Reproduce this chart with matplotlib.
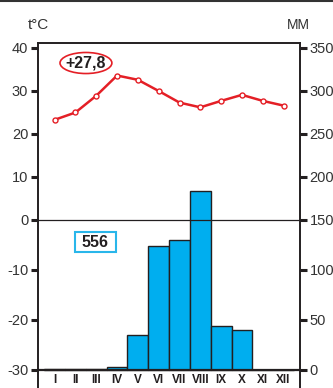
import matplotlib
matplotlib.use("Agg")
import matplotlib.pyplot as plt
import numpy as np
from matplotlib.lines import Line2D
from matplotlib.patches import Ellipse, Rectangle

# Monthly climate values
months = ["I", "II", "III", "IV", "V", "VI", "VII", "VIII", "IX", "X", "XI", "XII"]
temperature = [23.3, 25.0, 28.9, 33.6, 32.6, 30.0, 27.3, 26.2, 27.7, 29.1, 27.7, 26.6]
precipitation = [1, 1, 1, 3, 35, 124, 130, 184, 44, 40, 0, 0]

mean_temp_label = "+27,8"
annual_precip_label = "556"

temp_ticks = [-30, -20, -10, 0, 10, 20, 30, 40]
precip_ticks = [0, 50, 100, 150, 200, 250, 300, 350]

DARK = "#231f20"
RED = "#e41f26"
BLUE = "#00aeef"

plt.rcParams["font.family"] = ["Liberation Sans", "DejaVu Sans"]
NARROW = ["Liberation Sans Narrow", "Liberation Sans", "DejaVu Sans"]


# Temperature axis is stretched differently above and below 0 degrees
def t_fwd(t):
    t = np.asarray(t, dtype=float)
    return np.where(t >= 0, t * 4.3, t * 5.0)


def t_inv(u):
    u = np.asarray(u, dtype=float)
    return np.where(u >= 0, u / 4.3, u / 5.0)


# 0 degrees sits at 150 mm, 10 degrees per 50 mm
def mm_fwd(m):
    return t_fwd((np.asarray(m, dtype=float) - 150) / 5)


def mm_inv(u):
    return t_inv(u) * 5 + 150


fig = plt.figure(figsize=(3.33, 3.88), dpi=100)
ax = fig.add_axes([38 / 333, 0, 262 / 333, 345 / 388])
ax2 = ax.twinx()

t_lo, t_hi = -33.6, 41.16
x = np.arange(len(months))

ax.set_yscale("function", functions=(t_fwd, t_inv))
ax.set_ylim(t_lo, t_hi)
ax2.set_yscale("function", functions=(mm_fwd, mm_inv))
ax2.set_ylim(150 + 5 * t_lo, 150 + 5 * t_hi)
ax.set_xlim(-0.80, 11.79)

# precipitation bars
ax2.bar(x, precipitation, width=1.0, color=BLUE, edgecolor=DARK, linewidth=1.0)
ax2.axhline(0, color=DARK, lw=1.6)

# temperature curve above the bars
ax.set_zorder(ax2.get_zorder() + 1)
ax.patch.set_visible(False)
ax.axhline(0, color=DARK, lw=0.9)
ax.plot(x, temperature, color=RED, lw=1.8, marker="o", markersize=3.6,
        markerfacecolor="white", markeredgecolor=RED, markeredgewidth=1.0)

# ticks
ax.set_yticks(temp_ticks)
ax.set_yticklabels([str(v) for v in temp_ticks])
ax2.set_yticks(precip_ticks)
ax2.set_yticklabels([str(v) for v in precip_ticks])
ax.set_xticks([])
for a in (ax, ax2):
    a.tick_params(axis="y", length=5, width=2.2, color=DARK, pad=2,
                  labelsize=10.5, labelcolor="#333333")
    a.yaxis.set_minor_locator(matplotlib.ticker.NullLocator())
    a.spines["bottom"].set_visible(False)
    for s in ("left", "right", "top"):
        a.spines[s].set_color(DARK)
        a.spines[s].set_linewidth(1.2)

for xi, name in zip(x, months):
    ax.text(xi, -32.0, name, ha="center", va="center", fontsize=8.5,
            fontweight="bold", family=NARROW, color=DARK)

# axis captions
fig.text(38 / 333, 1 - 25 / 388, "t°C", ha="center", va="center",
         fontsize=11, family=NARROW, color="#333333")
fig.text(298 / 333, 1 - 25 / 388, "ММ", ha="center", va="center",
         fontsize=10, family=NARROW, color="#333333")

# mean temperature in a red ellipse
ax.add_patch(Ellipse((0.183, 0.942), 0.198, 0.061, transform=ax.transAxes,
                     facecolor="none", edgecolor=RED, lw=1.2))
ax.text(0.183, 0.942, mean_temp_label, transform=ax.transAxes, ha="center",
        va="center", fontsize=11.5, fontweight="bold", color=DARK)

# annual precipitation in a blue box
ax.add_patch(Rectangle((0.141, 0.394), 0.156, 0.058, transform=ax.transAxes,
                       facecolor="white", edgecolor="#29b6ea", lw=1.5))
ax.text(0.219, 0.423, annual_precip_label, transform=ax.transAxes, ha="center",
        va="center", fontsize=11.5, fontweight="bold", color=DARK)

# rule along the top edge
fig.add_artist(Line2D([0, 1], [1 - 1 / 388] * 2, transform=fig.transFigure,
                      color="#333333", lw=1.5))

fig.savefig("out.png", dpi=100)
